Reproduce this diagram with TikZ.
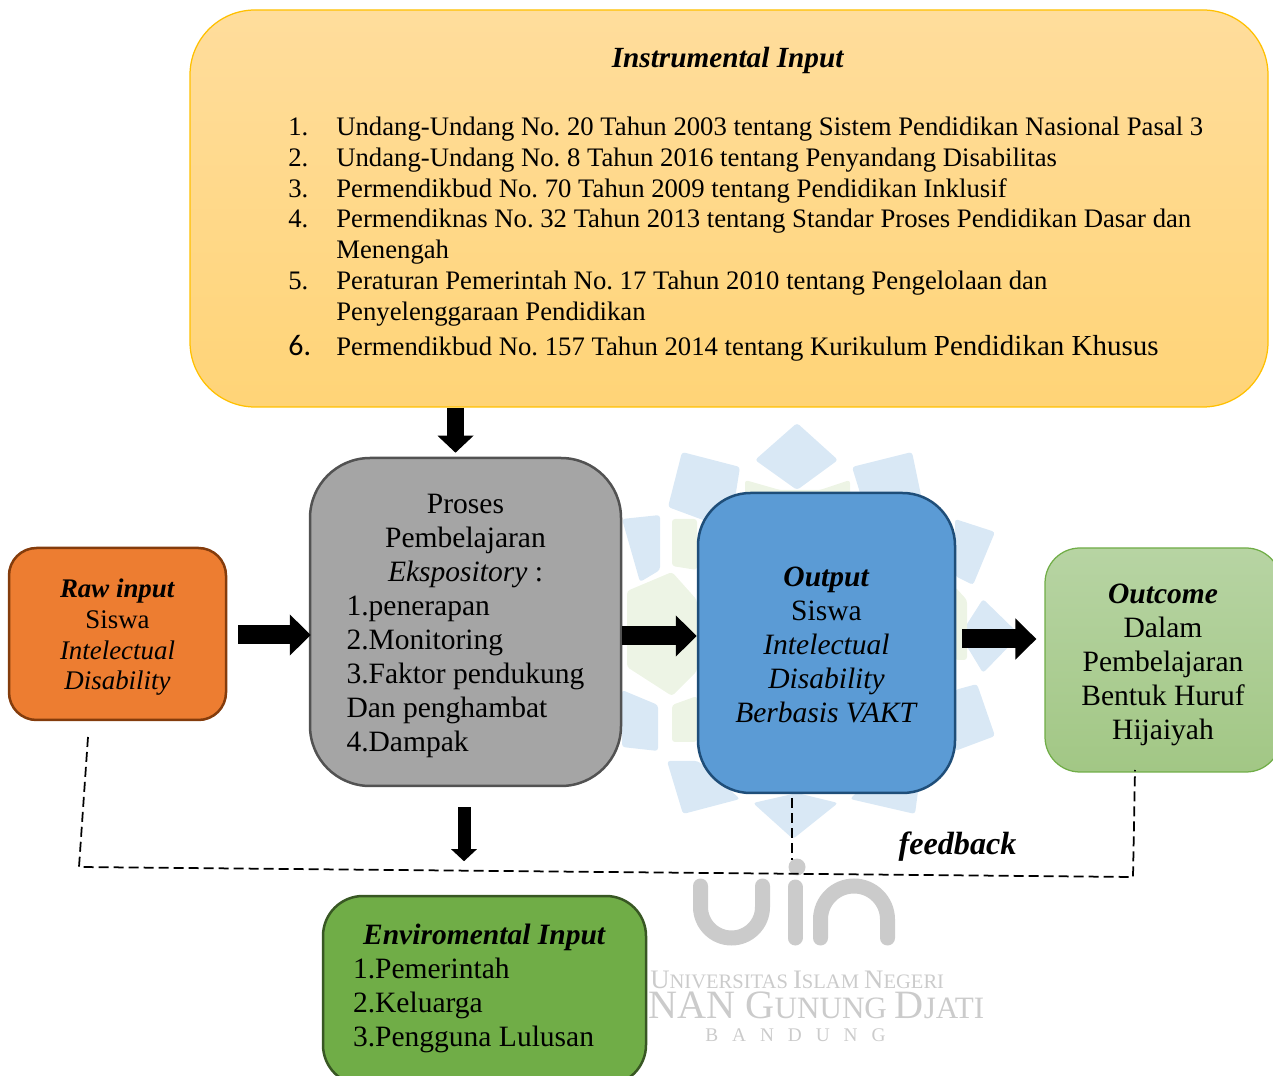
\documentclass[tikz,border=0pt]{standalone}
\usepackage{fontspec}
\setmainfont{Liberation Serif}
\newfontfamily\calfont{Carlito}
\usetikzlibrary{arrows.meta}

\definecolor{wmblue}{HTML}{D9E8F5}
\definecolor{wmgreen}{HTML}{EDF4E5}
\definecolor{wmgray}{HTML}{CBCBCB}
\definecolor{gold}{HTML}{FFC000}
\definecolor{instrtop}{HTML}{FFDD9C}
\definecolor{instrbot}{HTML}{FFD477}
\definecolor{rawfill}{HTML}{ED7D31}
\definecolor{rawline}{HTML}{843C0C}
\definecolor{prosesfill}{HTML}{A5A5A5}
\definecolor{prosesline}{HTML}{525252}
\definecolor{outputfill}{HTML}{5B9BD5}
\definecolor{outputline}{HTML}{1F4E79}
\definecolor{outcomeline}{HTML}{70AD47}
\definecolor{outcometop}{HTML}{B7D4A3}
\definecolor{outcomebot}{HTML}{A2C785}
\definecolor{envirofill}{HTML}{70AD47}
\definecolor{enviroline}{HTML}{385723}

\newcommand{\listfont}{\fontsize{15.2}{17}\selectfont}
\newcommand{\boxfont}{\fontsize{16.8}{19.35}\selectfont\frenchspacing}
\newcommand{\rawfont}{\fontsize{15.3}{17.4}\selectfont}

\tikzset{
	box/.style={draw, rounded corners=#1, inner sep=0pt, line width=0.05cm, font=\boxfont},
	blockarrow/.style={line width=0.38cm, -{Triangle[length=0.42cm, width=0.8cm]}},
	slimarrow/.style={line width=0.26cm, -{Triangle[length=0.24cm, width=0.5cm]}},
	feedbackline/.style={line width=0.035cm, dash pattern=on 0.2cm off 0.1cm},
	listnum/.style={anchor=base west, inner sep=0pt},
	listtext/.style={anchor=base west, inner sep=0pt},
	petal/.style={fill=wmblue, rounded corners=0.06cm},
	leaf/.style={fill=wmgreen, rounded corners=0.06cm},
	logo/.style={wmgray, line width=0.3cm, line cap=round},
	wmtext/.style={wmgray, inner sep=0pt}
}

\begin{document}
\begin{tikzpicture}
	\useasboundingbox (0,0) rectangle (25.46,21.5);
	\clip (0,0) rectangle (25.46,21.5);

	% Wasserzeichen
	\fill[petal] (15.1,12.3) -- (15.94,13.04) -- (16.76,12.3) -- (15.94,11.7) -- cycle;
	\fill[petal] (17.04,12.16) -- (18.24,12.46) -- (18.44,11.5) -- (17.4,11) -- cycle;
	\fill[petal] (14.8,12.16) -- (13.64,12.46) -- (13.36,11.36) -- (14.6,10.9) -- cycle;
	\fill[petal] (12.44,11.12) -- (13.2,11.2) -- (13.2,10.1) -- (12.8,9.86) -- cycle;
	\fill[petal] (19.1,11.12) -- (19.9,10.86) -- (19.46,9.8) -- (19.1,9.98) -- cycle;
	\fill[petal] (19.66,9.52) -- (20.4,8.8) -- (19.66,8.04) -- (19.2,8.8) -- cycle;
	\fill[petal] (19.1,7.7) -- (19.54,7.82) -- (19.9,6.78) -- (19.1,6.48) -- cycle;
	\fill[petal] (12.44,7.7) -- (13.16,7.4) -- (13.16,6.48) -- (12.44,6.56) -- cycle;
	\fill[petal] (13.34,6.28) -- (13.96,6.28) -- (14.8,5.52) -- (13.66,5.22) -- cycle;
	\fill[petal] (18.44,6.28) -- (17.8,6.28) -- (17,5.52) -- (18.3,5.22) -- cycle;
	\fill[petal] (15.06,5.44) -- (15.86,4.72) -- (16.76,5.44) -- (15.94,5.64) -- cycle;
	\fill[leaf] (13.44,11.12) -- (13.94,11.12) -- (13.94,10.1) -- (13.44,10.18) -- cycle;
	\fill[leaf] (12.54,9.68) -- (13.44,10.06) -- (13.94,9.5) -- (13.94,8.08) -- (13.44,7.58) -- (12.54,8.16) -- cycle;
	\fill[leaf] (13.44,7.4) -- (13.94,7.58) -- (13.94,6.66) -- (13.44,6.66) -- cycle;
	\fill[leaf] (14.9,11.9) -- (15.6,11.7) -- (16.4,11.7) -- (17,11.9) -- (17,11) -- (14.9,11) -- cycle;
	\fill[leaf] (19.1,9.76) -- (19.34,9.5) -- (19.34,8.3) -- (19.1,8.3) -- cycle;
	\draw[logo] (14.01,3.78) -- (14.01,3.36) arc[start angle=180, end angle=360, x radius=0.62, y radius=0.62] -- (15.25,3.78);
	\draw[logo] (15.9,3.76) -- (15.9,2.74);
	\fill[wmgray] (15.94,4.16) circle (0.17);
	\draw[logo] (16.41,2.74) -- (16.41,3.11) arc[start angle=180, end angle=0, x radius=0.67, y radius=0.67] -- (17.75,2.74);
	\node[wmtext, anchor=base west] (wmone) at (13,1.74) {\fontsize{15.2}{15}\selectfont U\fontsize{11.7}{15}\selectfont NIVERSITAS \fontsize{15.2}{15}\selectfont I\fontsize{11.7}{15}\selectfont SLAM \fontsize{15.2}{15}\selectfont N\fontsize{11.7}{15}\selectfont EGERI};
	\node[wmtext, anchor=base west] (wmtwo) at (12.96,1.14) {\fontsize{22.9}{22}\selectfont NAN G\fontsize{17.7}{22}\selectfont UNUNG \fontsize{22.9}{22}\selectfont D\fontsize{17.7}{22}\selectfont JATI};
	\node[wmtext, anchor=base west] (wmthree) at (14.1,0.68) {\fontsize{11}{11}\selectfont B\hspace{0.72em}A\hspace{0.72em}N\hspace{0.72em}D\hspace{0.72em}U\hspace{0.72em}N\hspace{0.72em}G};

	% Kotak
	\node[box=1.3cm, draw=gold, top color=instrtop, bottom color=instrbot, minimum width=21.56cm, minimum height=7.94cm, line width=0.025cm] (instrumental) at (14.58,17.33) {};
	\node[box=0.55cm, draw=rawline, fill=rawfill, minimum width=4.34cm, minimum height=3.44cm, align=center, font=\rawfont] (raw) at (2.35,8.82) {\rule{0pt}{0.51cm}\textbf{\textit{Raw input}}\\Siswa\\\textit{Intelectual}\\\textit{Disability}};
	\node[box=1.2cm, draw=prosesline, fill=prosesfill, minimum width=6.22cm, minimum height=6.56cm, text width=4.76cm, align=flush left] (proses) at (9.31,9.06) {
		\rule{0pt}{0.56cm}\makebox[\linewidth][c]{Proses}\\
		\makebox[\linewidth][c]{Pembelajaran}\\
		\makebox[\linewidth][c]{\textit{Ekspository} :}\\
		1.penerapan\\
		2.Monitoring\\
		\mbox{3.Faktor pendukung}\\
		Dan penghambat\\
		4.Dampak};
	\node[box=1.05cm, draw=outputline, fill=outputfill, minimum width=5.14cm, minimum height=6cm, align=center] (output) at (16.53,8.64) {\rule{0pt}{0.48cm}\textbf{\textit{Output}}\\Siswa\\\textit{Intelectual}\\\textit{Disability}\\\textit{Berbasis VAKT}};
	\node[box=0.7cm, draw=outcomeline, top color=outcometop, bottom color=outcomebot, minimum width=4.72cm, minimum height=4.48cm, align=center, line width=0.025cm] (outcome) at (23.26,8.3) {\rule{0pt}{0.6cm}\textbf{\textit{Outcome}}\\Dalam\\Pembelajaran\\Bentuk Huruf\\Hijaiyah};
	\node[box=0.8cm, draw=enviroline, fill=envirofill, minimum width=6.46cm, minimum height=3.78cm, text width=5.26cm, align=flush left] (enviro) at (9.69,1.69) {
		\makebox[\linewidth][c]{\textbf{\textit{Enviromental Input}}}\\
		1.Pemerintah\\
		2.Keluarga\\
		3.Pengguna Lulusan\rule[-0.2cm]{0pt}{0pt}};

	% Isi kotak atas
	\node[inner sep=0pt, anchor=base] (instrtitle) at (14.56,20.14) {\fontsize{16.65}{19}\selectfont\textbf{\textit{Instrumental Input}}};
	\foreach \n/\y/\t in {
		1./18.78/Undang-Undang No. 20 Tahun 2003 tentang Sistem Pendidikan Nasional Pasal 3,
		2./18.16/Undang-Undang No. 8 Tahun 2016 tentang Penyandang Disabilitas,
		3./17.54/Permendikbud No. 70 Tahun 2009 tentang Pendidikan Inklusif,
		4./16.94/Permendiknas No. 32 Tahun 2013 tentang Standar Proses Pendidikan Dasar dan,
		/16.32/Menengah,
		5./15.7/Peraturan Pemerintah No. 17 Tahun 2010 tentang Pengelolaan dan,
		/15.08/Penyelenggaraan Pendidikan}
	{
		\node[listnum] (num\y) at (5.76,\y) {\listfont\n};
		\node[listtext] (item\y) at (6.72,\y) {\listfont\frenchspacing\t};
	}
	\node[listnum] (numsix) at (5.76,14.38) {\calfont\fontsize{17}{17}\selectfont 6.};
	\node[listtext] (itemsix) at (6.72,14.38) {\listfont\frenchspacing Permendikbud No. 157 Tahun 2014 tentang Kurikulum {\fontsize{16.5}{16}\selectfont Pendidikan Khusus}};

	\node[inner sep=0pt, anchor=base] (feedback) at (19.15,4.42) {\fontsize{18.3}{18}\selectfont\textbf{\textit{feedback}}};

	% Panah
	\coordinate (rawtail) at ([xshift=0.22cm, yshift=-0.02cm]raw.east);
	\coordinate (outtail) at ([xshift=0.12cm, yshift=0.08cm]output.east);
	\draw[blockarrow, line width=0.34cm, -{Triangle[length=0.34cm, width=0.7cm]}, shorten >=0.08cm] ([xshift=-0.2cm]proses.north |- instrumental.south) -- ([xshift=-0.2cm]proses.north);
	\draw[blockarrow] (rawtail) -- ([xshift=0.04cm]proses.west |- rawtail);
	\draw[blockarrow] ([yshift=-0.28cm]proses.east) -- ([yshift=-0.28cm]proses.east -| output.west);
	\draw[blockarrow] (outtail) -- ([xshift=-0.16cm]outcome.west |- outtail);
	\draw[slimarrow] ([xshift=-0.03cm, yshift=-0.4cm]proses.south) -- ++(0,-1.08);

	% Garis feedback
	\coordinate (fbraw) at (1.76,6.76);
	\coordinate (fbleft) at (1.58,4.16);
	\coordinate (fbright) at (22.66,3.96);
	\coordinate (fbout) at (22.7,6.1);
	\coordinate (fbmidtop) at (15.84,5.54);
	\coordinate (fbmidbot) at (15.84,4.3);
	\draw[feedbackline] (fbraw) -- (fbleft) -- (fbright) -- (fbout);
	\draw[feedbackline] (fbmidtop) -- (fbmidbot);
\end{tikzpicture}
\end{document}
